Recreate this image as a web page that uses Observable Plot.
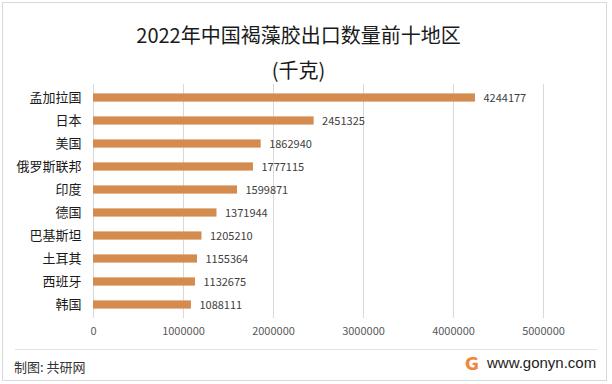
<!DOCTYPE html>
<html>
<head>
<meta charset="utf-8">
<script src="https://cdn.jsdelivr.net/npm/d3@7"></script>
<script src="https://cdn.jsdelivr.net/npm/@observablehq/plot@0.6"></script>
<style>
  html, body { margin: 0; padding: 0; background: #fff; }
  #wrap { position: relative; width: 612px; height: 384px; overflow: hidden; font-family: "Noto Sans CJK SC", "Noto Sans", sans-serif; }
  #frame { position: absolute; left: 2px; top: 2px; width: 605px; height: 379px; box-sizing: border-box; border: 1px solid #d9d9d9; pointer-events: none; }
  #header { position: relative; height: 78px; }
  .t { position: absolute; left: 0; width: 597px; text-align: center; color: #1a1a1a; font-size: 20px; line-height: 22px; white-space: nowrap; }
  #footer { position: relative; height: 36px; }
  #fline { position: absolute; left: 15px; top: 1px; width: 582px; height: 1px; background: #e3e3e3; }
  #src { position: absolute; left: 14px; top: 10px; font-size: 13px; line-height: 18px; color: #333; }
  #logo { position: absolute; left: 465px; top: 7px; font-family: "DejaVu Sans", sans-serif; font-weight: bold; font-size: 17px; line-height: 18px; color: #f0863a; }
  #site { position: absolute; left: 487px; top: 6px; font-family: "Liberation Sans", Arial, sans-serif; font-size: 15px; line-height: 18px; color: #222; }
  svg { display: block; }
</style>
</head>
<body>
<div id="wrap">
  <div id="header">
    <div class="t" style="top:24px">2022年中国褐藻胶出口数量前十地区</div>
    <div class="t" style="top:59px">(千克)</div>
  </div>
  <div id="chart"></div>
  <div id="footer">
    <div id="fline"></div>
    <div id="src">制图: 共研网</div>
    <div id="logo">G</div>
    <div id="site">www.gonyn.com</div>
  </div>
  <div id="frame"></div>
</div>
<script>
const categories = ["孟加拉国","日本","美国","俄罗斯联邦","印度","德国","巴基斯坦","土耳其","西班牙","韩国"];
const values = [4244177, 2451325, 1862940, 1777115, 1599871, 1371944, 1205210, 1155364, 1132675, 1088111];
const xTicks = [0, 1000000, 2000000, 3000000, 4000000, 5000000];

const data = categories.map((c, i) => ({country: c, value: values[i]}));
const font = '"Noto Sans CJK SC", "Noto Sans", sans-serif';

const chart = Plot.plot({
  width: 612,
  height: 270,
  marginTop: 6,
  marginBottom: 30,
  marginLeft: 93,
  marginRight: 69,
  style: { fontFamily: font, background: "transparent", overflow: "visible" },
  x: { domain: [0, 5000000], ticks: xTicks },
  y: { domain: categories, padding: 0 },
  marks: [
    Plot.gridX(xTicks, { stroke: "#d9d9d9", strokeOpacity: 1, strokeWidth: 1 }),
    Plot.barX(data, { x: "value", y: "country", fill: "#d38b4e", insetTop: 7.4, insetBottom: 7.4 }),
    Plot.text(data, { x: "value", y: "country", text: d => String(d.value), dx: 8, textAnchor: "start", fontSize: 11, fill: "#404040" }),
    Plot.axisY({ tickSize: 0, tickPadding: 12, fontSize: 13, color: "#1a1a1a", label: null }),
    Plot.axisX({ ticks: xTicks, tickSize: 0, tickPadding: 9, fontSize: 11, color: "#595959", label: null, tickFormat: d3.format("d") })
  ]
});
document.getElementById("chart").appendChild(chart);
</script>
</body>
</html>
